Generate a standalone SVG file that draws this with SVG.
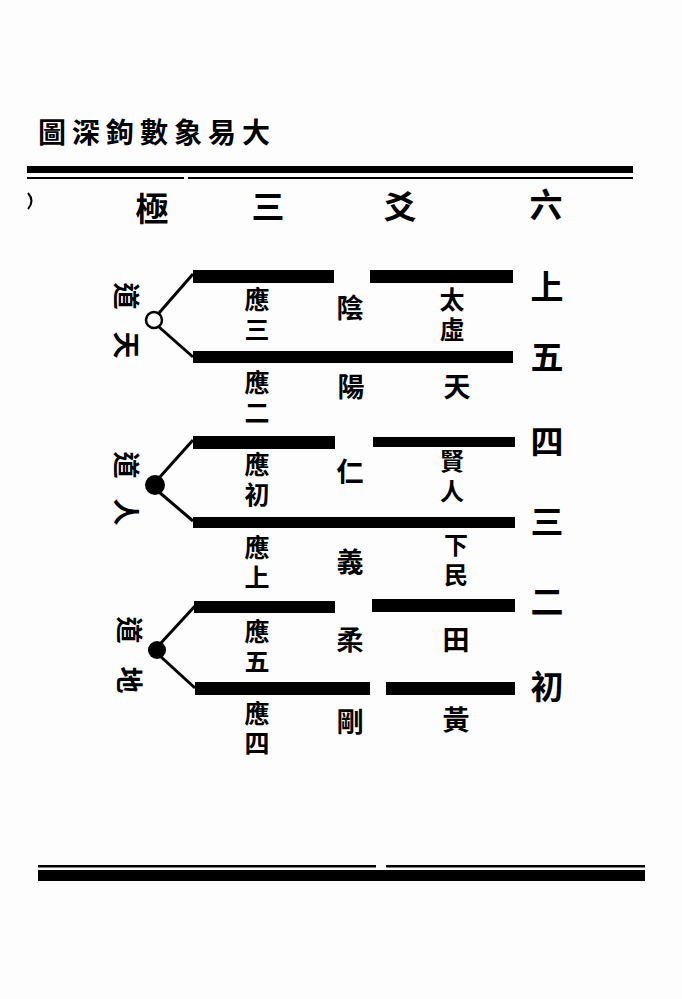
<svg xmlns="http://www.w3.org/2000/svg" width="682" height="999" viewBox="0 0 682 999">
<style>
.t{font-family:"Noto Sans CJK TC","Noto Sans CJK SC",sans-serif;font-weight:700;fill:#000;text-anchor:middle;dominant-baseline:central}
.big{font-size:33px}
.mid{font-size:27px}
.v{font-size:25px;writing-mode:vertical-rl;letter-spacing:5px}
.vs{font-size:24px;writing-mode:vertical-rl;letter-spacing:6px}
.bar{fill:#000}
.ln{stroke:#000;stroke-width:3;fill:none}
</style>
<rect width="682" height="999" fill="#fdfdfd"/>
<g id="title">
<text class="t" x="38" y="131" style="font-size:28px;text-anchor:start;letter-spacing:6px">圖深鉤數象易大</text>
</g>
<g id="frame">
<rect x="27" y="166" width="606" height="7" fill="#000"/>
<rect x="27" y="177" width="157" height="2" fill="#000"/>
<rect x="188" y="177" width="445" height="2" fill="#000"/>
<path d="M28 193 Q35 201 28 209" stroke="#000" stroke-width="2" fill="none"/>
<rect x="38" y="865" width="338" height="2.5" fill="#000"/>
<rect x="386" y="865" width="259" height="2.5" fill="#000"/>
<rect x="38" y="870" width="607" height="11" fill="#000"/>
</g>
<g id="heading">
<text class="t big" x="152" y="207">極</text>
<text class="t big" x="268" y="205">三</text>
<text class="t big" x="400" y="205">爻</text>
<text class="t big" x="546" y="203">六</text>
</g>
<g id="lines">
<text class="t big" x="547" y="285">上</text>
<text class="t big" x="547" y="355">五</text>
<text class="t big" x="547" y="440">四</text>
<text class="t big" x="547" y="520">三</text>
<text class="t big" x="547" y="600">二</text>
<text class="t big" x="547" y="685">初</text>
</g>
<g id="connectors">
<path class="ln" d="M159 313 L193 274"/>
<path class="ln" d="M159 327 L193 357"/>
<path class="ln" d="M159 478 L193 440"/>
<path class="ln" d="M159 492 L193 521"/>
<path class="ln" d="M160 644 L195 606"/>
<path class="ln" d="M160 656 L195 688"/>
</g>
<g id="heaven">
<rect class="bar" x="193" y="270" width="141" height="13"/>
<rect class="bar" x="370" y="270" width="143" height="13"/>
<rect class="bar" x="193" y="351" width="320" height="12"/>
<circle cx="154" cy="320" r="8" fill="#fff" stroke="#000" stroke-width="2.5"/>
<text class="t mid" x="127" y="296" transform="rotate(90 127 296)">道</text>
<text class="t mid" x="127" y="345" transform="rotate(90 127 345)">天</text>
<text class="t v" x="257" y="317">應三</text>
<text class="t mid" x="350" y="306">陰</text>
<text class="t v" x="452" y="317">太虛</text>
<text class="t v" x="257" y="400">應二</text>
<text class="t mid" x="351" y="385">陽</text>
<text class="t mid" x="457" y="385">天</text>
</g>
<g id="man">
<rect class="bar" x="193" y="436" width="142" height="13"/>
<rect class="bar" x="373" y="437" width="142" height="10"/>
<rect class="bar" x="193" y="517" width="322" height="11"/>
<circle cx="155" cy="485" r="10" fill="#000"/>
<text class="t mid" x="127" y="465" transform="rotate(90 127 465)">道</text>
<text class="t mid" x="127" y="512" transform="rotate(90 127 512)">人</text>
<text class="t v" x="257" y="482">應初</text>
<text class="t mid" x="350" y="470">仁</text>
<text class="t vs" x="452" y="479">賢人</text>
<text class="t v" x="257" y="565">應上</text>
<text class="t mid" x="350" y="560">義</text>
<text class="t vs" x="456" y="563">下民</text>
</g>
<g id="earth">
<rect class="bar" x="194" y="601" width="141" height="12"/>
<rect class="bar" x="372" y="599" width="143" height="13"/>
<rect class="bar" x="195" y="682" width="175" height="13"/>
<rect class="bar" x="386" y="682" width="129" height="13"/>
<circle cx="157" cy="650" r="9" fill="#000"/>
<text class="t mid" x="130" y="630" transform="rotate(90 130 630)">道</text>
<text class="t mid" x="130" y="680" transform="rotate(90 130 680)">地</text>
<text class="t v" x="257" y="649">應五</text>
<text class="t mid" x="350" y="638">柔</text>
<text class="t mid" x="456" y="638">田</text>
<text class="t v" x="257" y="731">應四</text>
<text class="t mid" x="350" y="720">剛</text>
<text class="t mid" x="456" y="718">黃</text>
</g>
</svg>
